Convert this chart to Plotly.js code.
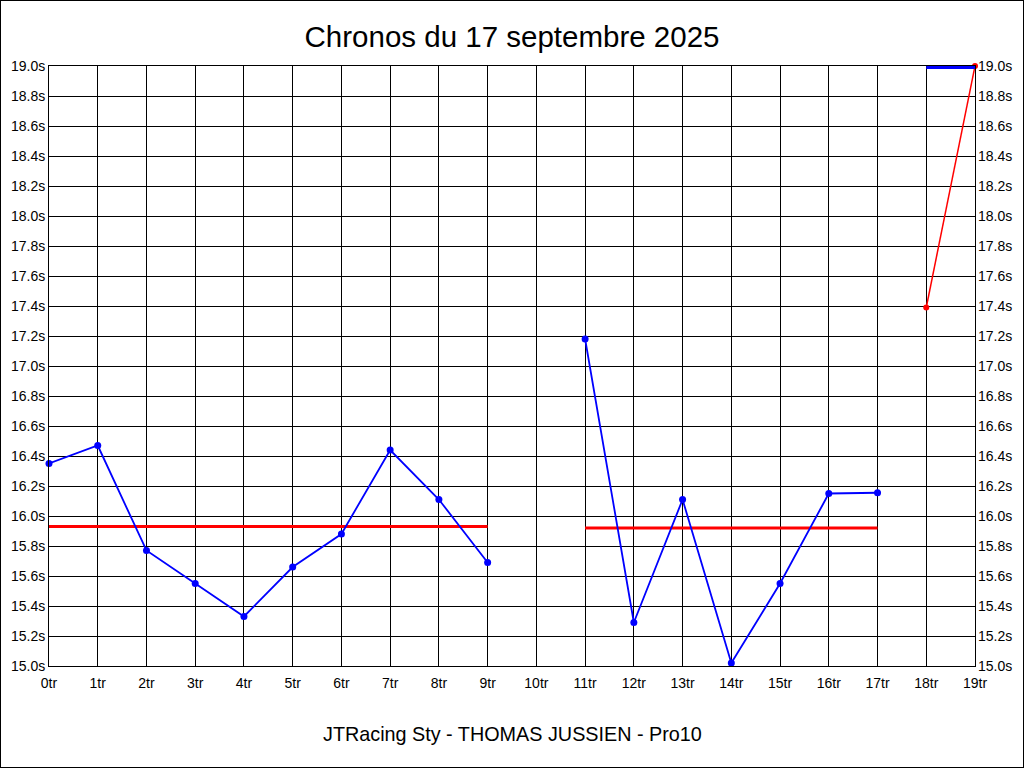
<!DOCTYPE html>
<html><head><meta charset="utf-8">
<script src="https://cdn.plot.ly/plotly-3.0.1.min.js"></script>
<style>html,body{margin:0;padding:0;background:#fff}#frame{width:1024px;height:768px;box-sizing:border-box;border:1px solid #000;position:relative;overflow:hidden}#chart{position:absolute;left:-1px;top:-1px;width:1024px;height:768px}</style>
</head><body><div id="frame"><div id="chart"></div></div>
<script>
const laps = [0,1,2,3,4,5,6,7,8,9,10,11,12,13,14,15,16,17,18,19];
const lapLabels = laps.map(i => i + 'tr');
const chronos = [16.35,16.47,15.77,15.55,15.33,15.66,15.88,16.44,16.11,15.69,null,17.18,15.29,16.11,15.02,15.55,16.15,16.155,null,null];
const avg1X = [0,9];
const avg1Y = [15.93,15.93];
const avg2X = [11,17];
const avg2Y = [15.92,15.92];
const lastX = [18,19];
const lastY = [17.39,19.0];
const topX = [18,19];
const topY = [19.0,19.0];
const yTicks = [15.0,15.2,15.4,15.6,15.8,16.0,16.2,16.4,16.6,16.8,17.0,17.2,17.4,17.6,17.8,18.0,18.2,18.4,18.6,18.8,19.0];
const yLabels = yTicks.map(v => v.toFixed(1) + 's');

const font = {family:'Liberation Sans, Arial, sans-serif', color:'#000'};
const traces = [
  {x:avg1X, y:avg1Y, mode:'lines', line:{color:'#ff0000', width:3}, hoverinfo:'skip'},
  {x:avg2X, y:avg2Y, mode:'lines', line:{color:'#ff0000', width:3}, hoverinfo:'skip'},
  {x:topX, y:topY, yaxis:'y3', mode:'lines', line:{color:'#0000ff', width:3}},
  {x:laps, y:chronos, mode:'lines+markers', line:{color:'#0000ff', width:1.8}, marker:{color:'#0000ff', size:7}, connectgaps:false, cliponaxis:false},
  {x:lastX, y:lastY, mode:'lines+markers', line:{color:'#ff0000', width:1.5}, marker:{color:'#ff0000', size:6}, cliponaxis:false},
  {x:[0], y:[15], yaxis:'y2', mode:'markers', marker:{opacity:0}, hoverinfo:'skip'}
];
const layout = {
  width:1024, height:768,
  margin:{l:49, r:49, t:66, b:102},
  paper_bgcolor:'#fff', plot_bgcolor:'#fff',
  showlegend:false,
  font:Object.assign({size:14}, font),
  title:{text:'Chronos du 17 septembre 2025', font:Object.assign({size:29.5}, font), x:0.5, xanchor:'center', y:0.952, yanchor:'middle'},
  xaxis:{range:[0,19], tickmode:'array', tickvals:laps, ticktext:lapLabels, showgrid:true, gridcolor:'#000', gridwidth:1, zeroline:false, showline:true, linecolor:'#000', linewidth:1, mirror:true, ticks:'', ticklen:0, ticklabelstandoff:4, tickfont:Object.assign({size:14}, font), fixedrange:true},
  yaxis:{range:[15,19], tickmode:'array', tickvals:yTicks, ticktext:yLabels, showgrid:true, gridcolor:'#000', gridwidth:1, zeroline:false, showline:true, linecolor:'#000', linewidth:1, mirror:true, ticks:'', tickfont:Object.assign({size:14}, font), fixedrange:true},
  yaxis2:{range:[15,19], overlaying:'y', side:'right', tickmode:'array', tickvals:yTicks, ticktext:yLabels, showgrid:false, zeroline:false, ticks:'', ticklabelstandoff:2, tickfont:Object.assign({size:14}, font), fixedrange:true},
  yaxis3:{range:[15,19.01], overlaying:'y', visible:false, fixedrange:true},
  annotations:[{text:'JTRacing Sty - THOMAS JUSSIEN - Pro10', xref:'paper', yref:'paper', x:0.5, y:-0.113, xanchor:'center', yanchor:'middle', showarrow:false, font:Object.assign({size:19.8}, font)}]
};
Plotly.newPlot('chart', traces, layout, {displayModeBar:false, staticPlot:true});
</script></body></html>
